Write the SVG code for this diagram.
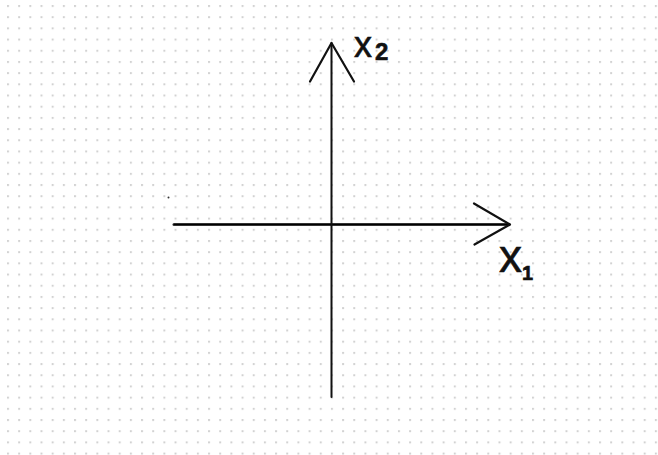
<svg xmlns="http://www.w3.org/2000/svg" width="658" height="455" viewBox="0 0 658 455">
  <defs>
    <pattern id="dots" x="7" y="5" width="11.17" height="11.19" patternUnits="userSpaceOnUse">
      <rect x="0" y="0" width="2" height="2" fill="#d2d2d2"/>
    </pattern>
    <style>
      .axis { stroke: #111; stroke-width: 2; fill: none; stroke-linecap: round; stroke-linejoin: round; }
      .head { stroke: #111; stroke-width: 2.2; fill: none; stroke-linecap: round; stroke-linejoin: round; }
      .lbl { font-family: "Liberation Sans", Arial, sans-serif; fill: #111; stroke: #111; stroke-width: 0.6; }
      .sub { font-weight: bold; }
    </style>
  </defs>
  <rect x="0" y="0" width="658" height="455" fill="#ffffff"/>
  <rect x="0" y="0" width="658" height="455" fill="url(#dots)"/>
  <circle cx="168.5" cy="197.5" r="1" fill="#333"/>

  <g id="connectors">
    <g id="axis-x1">
      <line class="axis" x1="174" y1="224.5" x2="509" y2="224.5" style="stroke-width:3; stroke:#333"/>
      <line class="axis" x1="174" y1="224.5" x2="509" y2="224.5" style="stroke-width:1.2; stroke:#000"/>
      <polyline class="head" points="474,203.5 510,224.5 474.5,244.5"/>
    </g>
    <g id="axis-x2">
      <line class="axis" x1="331.5" y1="43" x2="331.5" y2="397"/>
      <polyline class="head" points="310,81.5 331.5,43 354,81.5"/>
    </g>
  </g>

  <g id="label-x2">
    <text class="lbl" x="354" y="57" font-size="36">x<tspan class="sub" font-size="24" dx="3" dy="3">2</tspan></text>
  </g>
  <g id="label-x1">
    <text class="lbl" x="499" y="272" font-size="46">x<tspan class="sub" font-size="20" dx="0" dy="8">1</tspan></text>
  </g>
</svg>
